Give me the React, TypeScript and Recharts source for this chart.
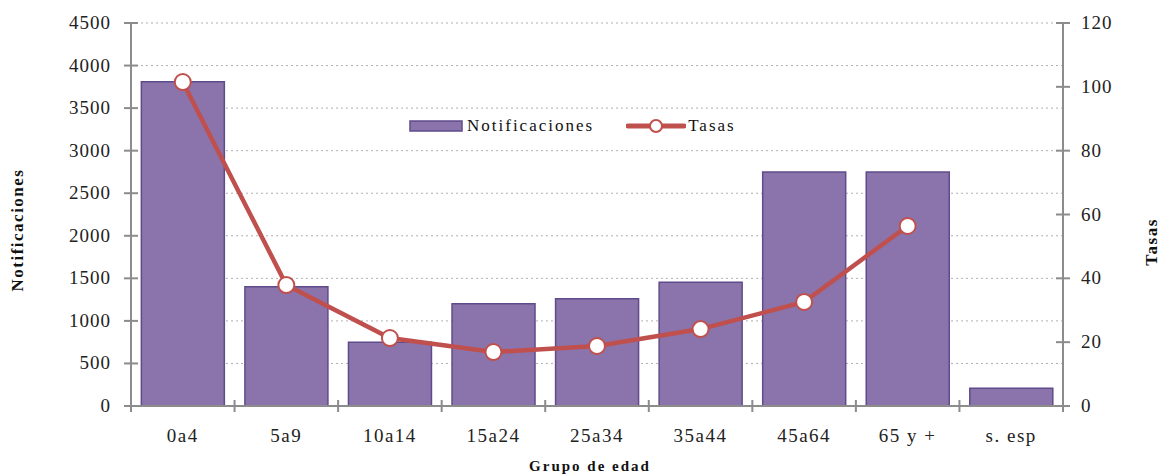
import {
  ComposedChart, Bar, Line, XAxis, YAxis, CartesianGrid, Legend,
} from "recharts";

const grupos = ["0a4", "5a9", "10a14", "15a24", "25a34", "35a44", "45a64", "65 y +", "s. esp"];
const notificaciones = [3810, 1400, 750, 1200, 1260, 1455, 2750, 2750, 210];
const tasas: (number | null)[] = [101.5, 37.9, 21.3, 16.9, 18.8, 24.1, 32.6, 56.4, null];
const ticksNotif = [0, 500, 1000, 1500, 2000, 2500, 3000, 3500, 4000, 4500];
const ticksTasas = [0, 20, 40, 60, 80, 100, 120];

const W = 1161;
const H = 474;
const PLOT_LEFT = 131;
const PLOT_RIGHT = 1063;
const PLOT_TOP = 23;
const PLOT_BOTTOM = 406;
const BAND = (PLOT_RIGHT - PLOT_LEFT) / grupos.length;

const AXIS = "#8c8c8c";
const BAR_FILL = "#8b74ab";
const BAR_STROKE = "#5f4b8b";
const LINE = "#c0504d";
const FONT = "Liberation Serif";

const data = grupos.map((g, i) => ({ grupo: g, notificaciones: notificaciones[i], tasas: tasas[i] }));

const LeftTick = ({ x, y, payload }: any) => (
  <g>
    <line x1={x - 7} x2={x + 7} y1={y} y2={y} stroke={AXIS} strokeWidth={2} />
    <text x={x - 20} y={y} dy={6} textAnchor="end" fontSize={19} letterSpacing={1} fill="#222" fontFamily={FONT}>
      {payload.value}
    </text>
  </g>
);

const RightTick = ({ x, y, payload }: any) => (
  <g>
    <line x1={x - 7} x2={x + 7} y1={y} y2={y} stroke={AXIS} strokeWidth={2} />
    <text x={x + 18} y={y} dy={6} textAnchor="start" fontSize={19} letterSpacing={1} fill="#222" fontFamily={FONT}>
      {payload.value}
    </text>
  </g>
);

const BottomTick = ({ x, y, payload, index }: any) => (
  <g>
    <line x1={x - BAND / 2} x2={x - BAND / 2} y1={y - 6} y2={y + 6} stroke={AXIS} strokeWidth={2} />
    {index === grupos.length - 1 && (
      <line x1={x + BAND / 2} x2={x + BAND / 2} y1={y - 6} y2={y + 6} stroke={AXIS} strokeWidth={2} />
    )}
    <text x={x} y={y + 36} textAnchor="middle" fontSize={19} letterSpacing={1.5} fill="#222" fontFamily={FONT}>
      {payload.value}
    </text>
  </g>
);

const LegendContent = () => (
  <div style={{ display: "flex", alignItems: "center", fontFamily: FONT, fontSize: 17, letterSpacing: 2, color: "#111" }}>
    <svg width={54} height={14} style={{ marginRight: 4 }}>
      <rect x={1} y={2} width={52} height={10} fill={BAR_FILL} stroke={BAR_STROKE} strokeWidth={1.5} />
    </svg>
    <span style={{ marginRight: 32 }}>Notificaciones</span>
    <svg width={60} height={20} style={{ marginRight: 2 }}>
      <line x1={2} x2={58} y1={10} y2={10} stroke={LINE} strokeWidth={5} strokeLinecap="round" />
      <circle cx={30} cy={10} r={6} fill="#fff" stroke={LINE} strokeWidth={2} />
    </svg>
    <span>Tasas</span>
  </div>
);

export default function App() {
  return (
    <div style={{ position: "absolute", left: 0, top: 0, width: W, height: H, background: "#fff", fontFamily: FONT }}>
      <ComposedChart
        width={W}
        height={H}
        data={data}
        barCategoryGap="10%"
        style={{ fontFamily: FONT }}
        margin={{ top: PLOT_TOP, right: W - PLOT_RIGHT - 60, bottom: H - PLOT_BOTTOM - 40, left: PLOT_LEFT - 60 }}
      >
        <CartesianGrid yAxisId="left" vertical={false} stroke="#b0b0b0" strokeDasharray="2 3" />
        <XAxis
          dataKey="grupo"
          height={40}
          axisLine={{ stroke: AXIS, strokeWidth: 2 }}
          tickLine={false}
          tickSize={0}
          tickMargin={0}
          tick={<BottomTick />}
          interval={0}
        />
        <YAxis
          yAxisId="left"
          width={60}
          domain={[0, 4500]}
          ticks={ticksNotif}
          axisLine={{ stroke: AXIS, strokeWidth: 2 }}
          tickLine={false}
          tickSize={0}
          tickMargin={0}
          tick={<LeftTick />}
          interval={0}
        />
        <YAxis
          yAxisId="right"
          orientation="right"
          width={60}
          domain={[0, 120]}
          ticks={ticksTasas}
          axisLine={{ stroke: AXIS, strokeWidth: 2 }}
          tickLine={false}
          tickSize={0}
          tickMargin={0}
          tick={<RightTick />}
          interval={0}
        />
        <Legend
          layout="horizontal"
          verticalAlign="middle"
          align="center"
          content={<LegendContent />}
          wrapperStyle={{ position: "absolute", left: 409, top: 116, width: "auto" }}
        />
        <Bar
          yAxisId="left"
          dataKey="notificaciones"
          name="Notificaciones"
          fill={BAR_FILL}
          stroke={BAR_STROKE}
          strokeWidth={1.5}
          isAnimationActive={false}
        />
        <Line
          yAxisId="right"
          dataKey="tasas"
          name="Tasas"
          type="linear"
          stroke={LINE}
          strokeWidth={4.5}
          dot={{ r: 8, fill: "#fff", stroke: LINE, strokeWidth: 2 }}
          activeDot={false}
          isAnimationActive={false}
        />
      </ComposedChart>
      <div
        style={{
          position: "absolute", left: 18, top: 230, transform: "translate(-50%, -50%) rotate(-90deg)",
          fontWeight: "bold", fontSize: 17, letterSpacing: 1.5, whiteSpace: "nowrap", color: "#111",
        }}
      >
        Notificaciones
      </div>
      <div
        style={{
          position: "absolute", left: 1152, top: 242, transform: "translate(-50%, -50%) rotate(-90deg)",
          fontWeight: "bold", fontSize: 17, letterSpacing: 1.5, whiteSpace: "nowrap", color: "#111",
        }}
      >
        Tasas
      </div>
      <div
        style={{
          position: "absolute", left: 590, top: 466, transform: "translate(-50%, -50%)",
          fontWeight: "bold", fontSize: 15, letterSpacing: 2, whiteSpace: "nowrap", color: "#111",
        }}
      >
        Grupo de edad
      </div>
    </div>
  );
}
